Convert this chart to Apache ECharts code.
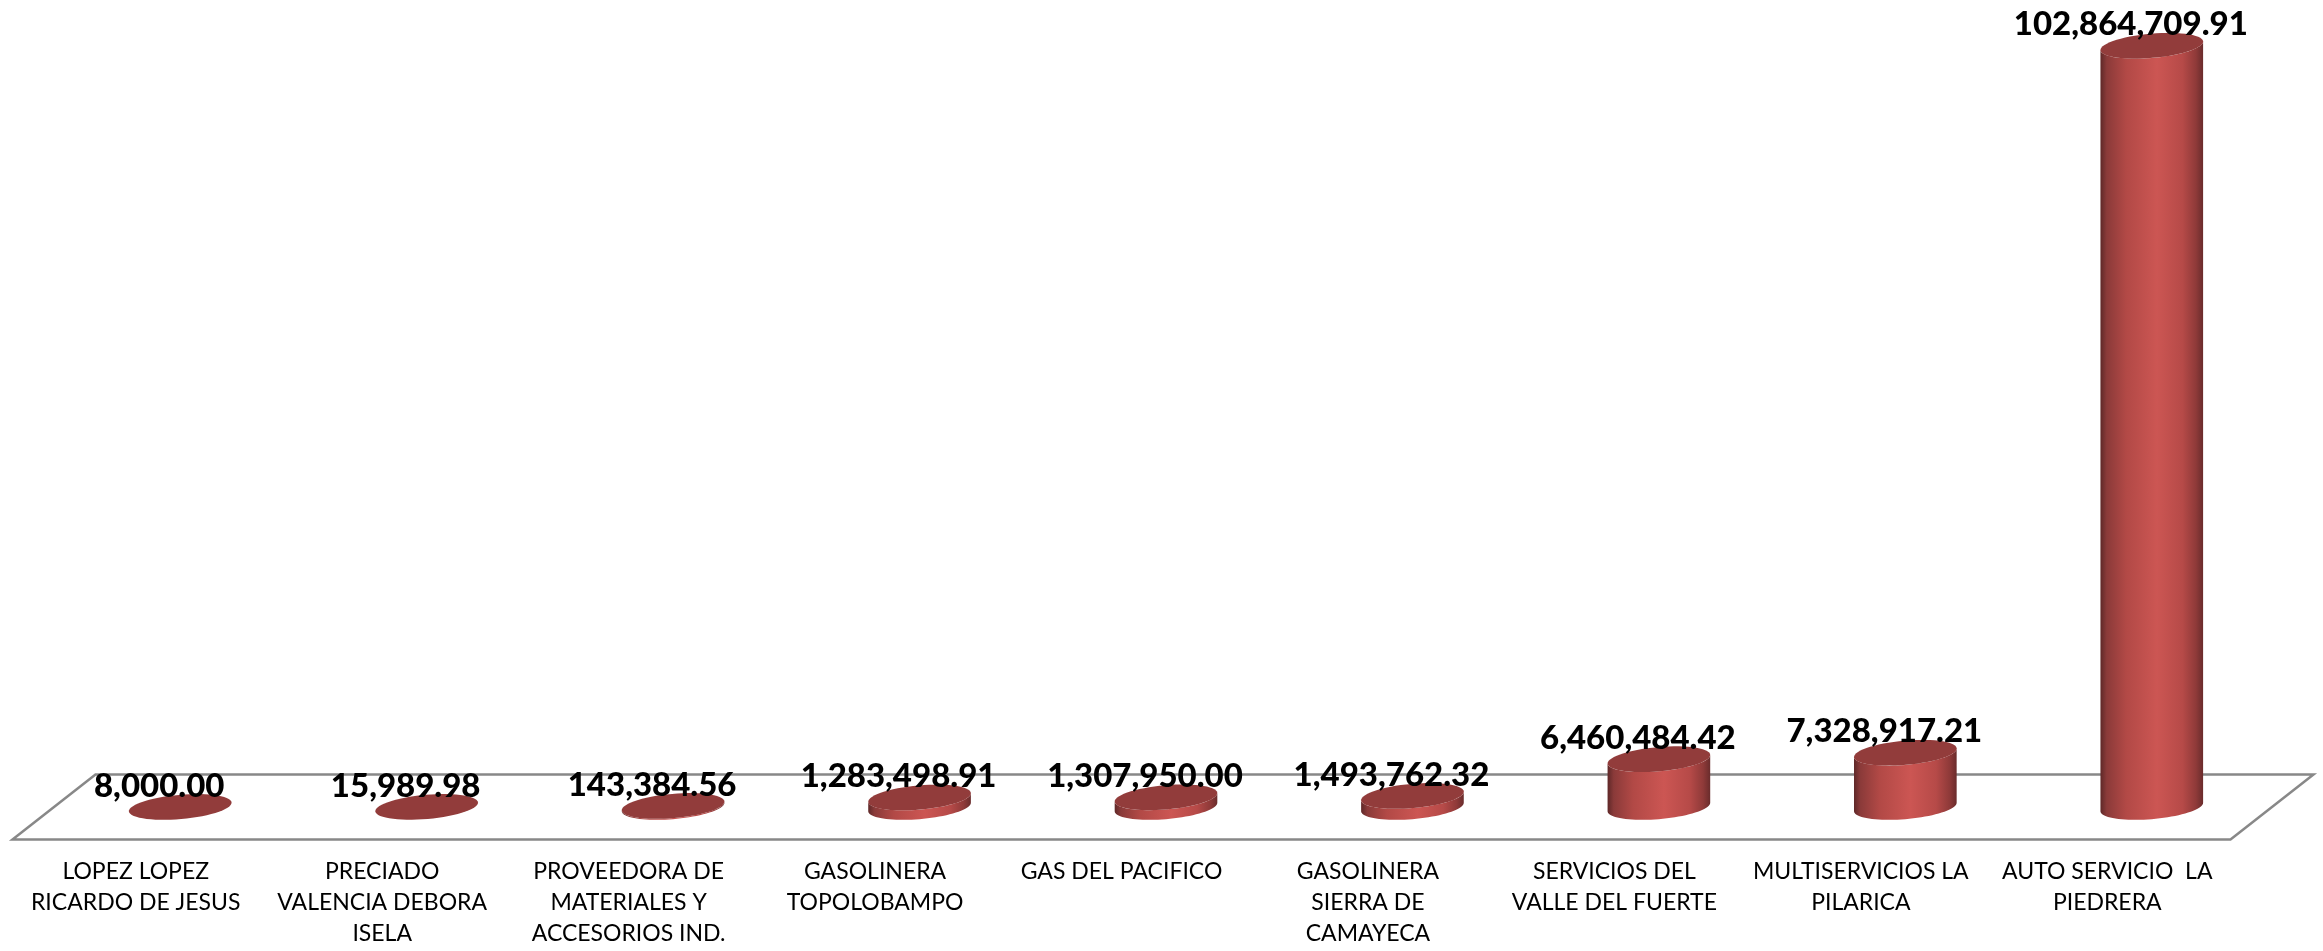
<!DOCTYPE html>
<html>
<head>
<meta charset="utf-8">
<script src="https://cdn.jsdelivr.net/npm/echarts@6/dist/echarts.min.js"></script>
<style>
html,body{margin:0;padding:0;background:#fff;}
#chart{width:2323px;height:951px;}
</style>
</head>
<body>
<div id="chart"></div>
<script>
const categories = [
  "LOPEZ LOPEZ\nRICARDO DE JESUS",
  "PRECIADO\nVALENCIA DEBORA\nISELA",
  "PROVEEDORA DE\nMATERIALES Y\nACCESORIOS IND.",
  "GASOLINERA\nTOPOLOBAMPO",
  "GAS DEL PACIFICO",
  "GASOLINERA\nSIERRA DE\nCAMAYECA",
  "SERVICIOS DEL\nVALLE DEL FUERTE",
  "MULTISERVICIOS LA\nPILARICA",
  "AUTO SERVICIO  LA\nPIEDRERA"
];
const values = [8000.00, 15989.98, 143384.56, 1283498.91, 1307950.00, 1493762.32, 6460484.42, 7328917.21, 102864709.91];

function fmt(v) {
  return v.toLocaleString('en-US', {minimumFractionDigits: 2, maximumFractionDigits: 2});
}

const TILT = -5 * Math.PI / 180;

function ellipsePts(cx, cy, rx, ry, phi, t0, t1, n) {
  const pts = [];
  for (let i = 0; i <= n; i++) {
    const t = t0 + (t1 - t0) * i / n;
    const ex = rx * Math.cos(t), ey = ry * Math.sin(t);
    pts.push([cx + ex * Math.cos(phi) - ey * Math.sin(phi), cy + ex * Math.sin(phi) + ey * Math.cos(phi)]);
  }
  return pts;
}

function renderBar(params, api) {
  const idx = api.value(0);
  const v = api.value(1);
  const top = api.coord([idx, v]);
  const base = api.coord([idx, 0]);
  const bandW = api.size([1, 0])[0];
  const rx = bandW * 0.209;
  const ry = rx * 0.235;
  const cx = top[0] + 3;
  const topY = top[1];
  const botY = base[1];
  const tT = Math.atan(-(ry / rx) * Math.tan(TILT));
  const bottomArc = ellipsePts(cx, botY, rx, ry, TILT, Math.PI + tT, tT, 40);
  const topArc = ellipsePts(cx, topY, rx, ry, TILT, tT, Math.PI + tT, 40);
  const bodyPts = bottomArc.concat(topArc);
  const topEll = ellipsePts(cx, topY, rx, ry, TILT, 0, Math.PI * 2, 60);
  const children = [];
  if (botY - topY > 0.5) {
    children.push({
      type: 'polygon',
      shape: {points: bodyPts},
      style: {
        fill: {
          type: 'linear', x: 0, y: 0, x2: 1, y2: 0,
          colorStops: [
            {offset: 0, color: '#5e2828'},
            {offset: 0.06, color: '#8a3a39'},
            {offset: 0.25, color: '#b24946'},
            {offset: 0.55, color: '#cc5653'},
            {offset: 0.8, color: '#b64a48'},
            {offset: 0.93, color: '#8f3a39'},
            {offset: 1, color: '#6a2c2c'}
          ]
        },
        stroke: null
      }
    });
  }
  children.push({
    type: 'polygon',
    shape: {points: topEll},
    style: {fill: '#923c3b', stroke: null}
  });
  children.push({
    type: 'text',
    x: cx - 21,
    y: topY - 21,
    style: {
      text: fmt(v),
      fontFamily: 'Lato',
      fontWeight: 900,
      fontSize: 33,
      fill: '#000',
      align: 'center',
      verticalAlign: 'middle'
    }
  });
  return {type: 'group', children: children};
}

function renderFloor(params, api) {
  const cs = params.coordSys;
  const x0 = cs.x, x1 = cs.x + cs.width;
  const yb = api.coord([0, 0])[1];
  const dx = 41.5, dy = 32.5;
  return {
    type: 'polygon',
    shape: {points: [[x0 + dx, yb - dy], [x1 + dx, yb - dy], [x1 - dx, yb + dy], [x0 - dx, yb + dy]]},
    style: {fill: null, stroke: '#888888', lineWidth: 2.5}
  };
}

const chart = echarts.init(document.getElementById('chart'), null, {renderer: 'canvas'});
chart.setOption({
  animation: false,
  backgroundColor: '#ffffff',
  grid: {left: 54, right: 51, top: 30, bottom: 144},
  xAxis: {
    type: 'category',
    data: categories,
    axisLine: {show: false},
    axisTick: {show: false},
    splitLine: {show: false},
    axisLabel: {
      interval: 0,
      margin: 49,
      fontFamily: 'Lato',
      fontSize: 23,
      lineHeight: 31,
      color: '#000',
      align: 'center',
      padding: [0, 83, 0, 0]
    }
  },
  yAxis: {
    type: 'value',
    min: 0,
    max: 105000000,
    show: false,
    splitLine: {show: false}
  },
  series: [
    {
      type: 'custom',
      name: 'floor',
      renderItem: renderFloor,
      data: [[0, 0]],
      silent: true,
      z: 1
    },
    {
      type: 'custom',
      name: 'importe',
      renderItem: renderBar,
      data: values.map((v, i) => [i, v]),
      silent: true,
      z: 2
    }
  ]
});
</script>
</body>
</html>
